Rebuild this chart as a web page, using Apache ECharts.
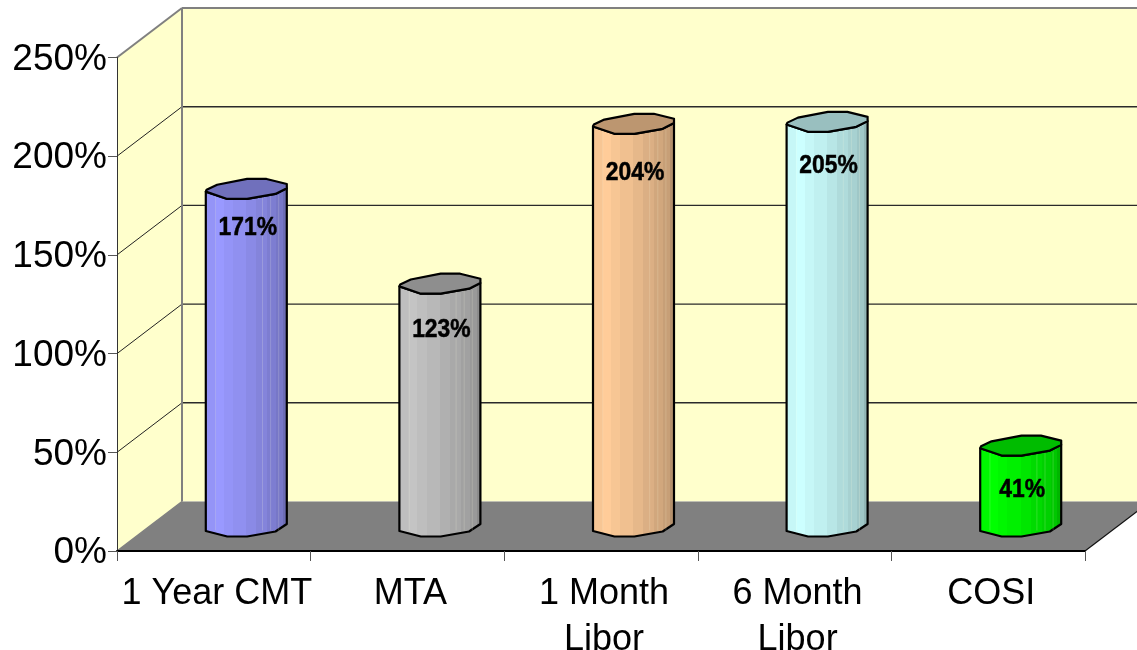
<!DOCTYPE html>
<html>
<head>
<meta charset="utf-8">
<style>html,body{margin:0;padding:0;background:#fff;overflow:hidden}#c{width:1137px;height:650px}</style>
<script src="https://cdn.jsdelivr.net/npm/echarts@6/dist/echarts.min.js"></script>
</head>
<body>
<div id="c"></div>
<script>
const categories = ['1 Year CMT', 'MTA', '1 Month\nLibor', '6 Month\nLibor', 'COSI'];
const values = [171, 123, 204, 205, 41];
const valueTicks = [0, 50, 100, 150, 200, 250];
const sideColors = ['#9999FF', '#C4C4C4', '#FFCC99', '#CCFFFF', '#00FF00'];
const capColors = ['#7070BC', '#8E8E8E', '#BC9670', '#99BFBF', '#00BC00'];
const labelDrops = [38.5, 46, 49, 44, 44.5];

const FONT = '"Liberation Sans", Arial, sans-serif';
const DX = 65, DY = -49.5;         // wall depth
const CX = 32.5, CY = -24.5;       // bar depth
const RX = 40.5, RY = 10;
const upper = [[-1,.27],[-.98,.08],[-.72,-.42],[.02,-1],[.5,-1],[1,-.5],[1,-.07]];
const lower = [[1,-.07],[.72,.5],[.02,1],[-.47,1],[-1,.27]];
const bandEdges = [.13,.23,.34,.5,.62,.75,.86,.94,1];
const bandShade = [.97,1,.97,.94,.9,.86,.82,.78,.71];
const seams = [.12,.7,.8,.9];

function shade(hex, f) {
  const n = parseInt(hex.slice(1), 16);
  return 'rgb(' + [(n>>16)&255,(n>>8)&255,n&255].map(v => Math.round(v*f)).join(',') + ')';
}
function sideFill(hex) {
  const stops = [];
  let prev = 0;
  bandEdges.forEach((e, i) => {
    const c = shade(hex, bandShade[i]);
    stops.push({offset: prev, color: c}, {offset: e, color: c});
    prev = e;
  });
  return {type: 'linear', x: 0, y: 0, x2: 1, y2: 0, colorStops: stops};
}
function poly(points, style, z2) {
  return {type: 'polygon', shape: {points}, style, z2};
}
function seg(a, b, stroke, lineWidth, z2) {
  return {type: 'line', shape: {x1:a[0],y1:a[1],x2:b[0],y2:b[1]}, style: {stroke, lineWidth, fill:null}, z2};
}

function renderRoom(params, api) {
  const cs = params.coordSys;
  const L = cs.x, R = cs.x + cs.width;
  const y0 = api.coord([0, 0])[1], yT = api.coord([0, valueTicks[valueTicks.length-1]])[1];
  const kids = [
    poly([[L+DX,yT+DY],[R+DX+80,yT+DY],[R+DX+80,y0+DY],[L+DX,y0+DY]], {fill:'#FFFFCC'}, 1),
    poly([[L,yT],[L+DX,yT+DY],[L+DX,y0+DY],[L,y0]], {fill:'#FFFFCC'}, 1),
    poly([[L,y0],[L+DX,y0+DY],[R+DX,y0+DY],[R,y0]], {fill:'#808080'}, 2)
  ];
  valueTicks.forEach((t, i) => {
    const y = api.coord([0, t])[1];
    if (i > 0 && i < valueTicks.length-1) {
      kids.push(seg([L,y],[L+DX,y+DY],'#222',1,3));
      kids.push(seg([L+DX,y+DY],[R+DX+80,y+DY],'#2a2a2a',1.4,3));
    }
  });
  kids.push(seg([L,y0],[L+DX,y0+DY],'#808080',1.5,4));
  kids.push(seg([L,yT],[L+DX,yT+DY],'#808080',2,4));
  kids.push(seg([L+DX,yT+DY],[L+DX,y0+DY],'#808080',2,4));
  kids.push(seg([L+DX,yT+DY],[R+DX+80,yT+DY],'#808080',2,4));
  kids.push(seg([R,y0],[R+DX,y0+DY],'#111',1.2,4));
  return {type:'group', children:kids};
}

function renderBar(params, api) {
  const i = api.value(0), v = api.value(1);
  const top = api.coord([i, v]), base = api.coord([i, 0]);
  const cx = top[0] + CX, ty = top[1] + CY, by = base[1] + CY;
  const at = (p, y) => [cx + p[0]*RX, y + p[1]*RY];
  const body = [at([-1,.27],ty), at([-1,.45],by)]
    .concat(lower.slice().reverse().slice(1,-1).map(p => at(p,by)))
    .concat([at([1,-.25],by), at([1,-.07],ty)])
    .concat(lower.slice(1,-1).map(p => at(p,ty)));
  const cap = upper.concat(lower.slice(1,-1)).map(p => at(p,ty));
  const outline = {stroke:'#000', lineWidth:2.2, lineJoin:'round'};
  const kids = [
    poly(body, Object.assign({fill: sideFill(sideColors[i])}, outline), 1)
  ];
  seams.forEach(f => {
    const x = cx - RX + 2*RX*f;
    kids.push({type:'line', shape:{x1:x,y1:ty+RY*.6,x2:x,y2:by+RY*.4},
      style:{stroke:'rgba(255,255,225,.18)', lineWidth:1}, z2:2});
  });
  kids.push(poly(cap, Object.assign({fill: capColors[i]}, outline), 3));
  kids.push({type:'text', x:cx+1.5, y:ty+labelDrops[i], scaleX:.88, scaleY:1, z2:5,
    style:{text: v+'%', font:'bold 26px '+FONT, fill:'#000', stroke:'#000', lineWidth:.5, textAlign:'center', textVerticalAlign:'middle'}});
  return {type:'group', children:kids};
}

const chart = echarts.init(document.getElementById('c'), null, {renderer:'canvas', width:1137, height:650});
chart.setOption({
  animation:false,
  backgroundColor:'#fff',
  grid:{left:117, right:52, top:57.5, bottom:99, containLabel:false, outerBoundsMode:'none'},
  xAxis:{
    type:'category', data:categories, z:3,
    axisLine:{lineStyle:{color:'#000', width:2}},
    axisTick:{show:true, alignWithLabel:false, length:10, lineStyle:{color:'#555', width:1}},
    axisLabel:{interval:0, margin:20, fontFamily:FONT, fontSize:36, color:'#000', lineHeight:46, padding:[0,0,0,6]}
  },
  yAxis:{
    type:'value', min:0, max:250, interval:50, z:3,
    axisLine:{show:true, lineStyle:{color:'#333', width:1}},
    axisTick:{show:true, length:9, lineStyle:{color:'#555', width:1}},
    splitLine:{show:false},
    axisLabel:{margin:10, fontFamily:FONT, fontSize:37, color:'#000', formatter:'{value}%', verticalAlign:'top', lineHeight:4}
  },
  series:[
    {type:'custom', z:1, silent:true, clip:false, renderItem:renderRoom, data:[[0,0]], encode:{x:0,y:1}},
    {type:'custom', z:5, silent:true, clip:false, renderItem:renderBar,
     data:values.map((v,i)=>[i,v]), encode:{x:0,y:1}}
  ]
});
</script>
</body>
</html>
